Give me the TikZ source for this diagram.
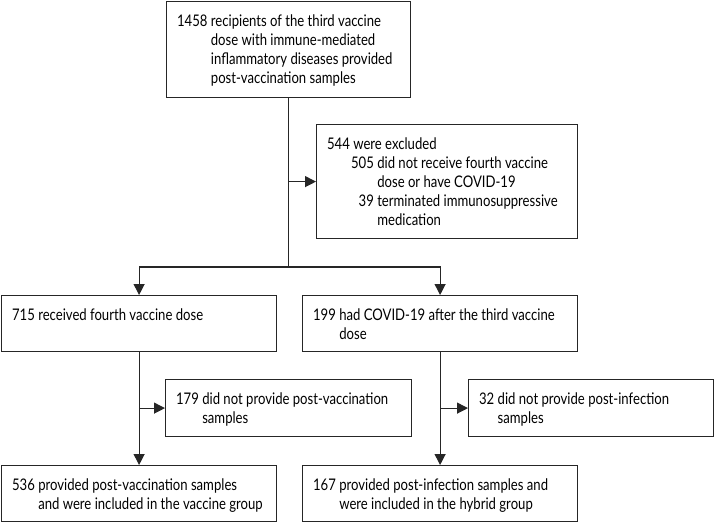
\documentclass[tikz,border=0pt]{standalone}
\usepackage{fontspec}
\setmainfont[FakeStretch=0.82]{Lato}
\usetikzlibrary{arrows.meta}

\begin{document}
\begin{tikzpicture}[
        x=1pt, y=-1pt,
        box/.style={rectangle, draw=black!85, line width=1.2pt, anchor=north west, align=flush left, inner xsep=10.5pt, inner ysep=0pt, text height=24.5pt, font=\fontsize{16}{19}\selectfont},
        wide_box/.style={box, text width=254pt, text depth=31.5pt},
        side_box/.style={box, text width=225pt, text depth=32.5pt},
        flow/.style={line width=1.2pt, draw=black!85, -{Triangle[length=11pt,width=11pt]}}
    ]
        \useasboundingbox (0,0) rectangle (715,522);

        % Top: all recipients and exclusions
        \node[box, text width=223pt, text depth=71.5pt] (recipients_box) at (166,1) {1458 recipients of the third vaccine\\
            \hphantom{1458 }dose with immune-mediated\\
            \hphantom{1458 }inflammatory diseases provided\\
            \hphantom{1458 }post-vaccination samples};
        \node[box, text width=240pt, text depth=89.5pt] (excluded_box) at (316,124) {544 were excluded\\
            \hspace*{24pt}505 did not receive fourth vaccine\\
            \hspace*{24pt}\hphantom{505 }dose or have COVID-19\\
            \hspace*{24pt}\hphantom{5}39 terminated immunosuppressive\\
            \hspace*{24pt}\hphantom{505 }medication};

        % Second row: the two groups
        \node[wide_box] (fourth_box) at (1,295) {715 received fourth vaccine dose};
        \node[wide_box] (covid_box) at (302,295) {199 had COVID-19 after the third vaccine\\
            \hphantom{199 }dose};

        % Third row: missing samples
        \node[side_box] (novax_box) at (165,379) {179 did not provide post-vaccination\\
            \hphantom{179 }samples};
        \node[side_box, text width=224pt] (noinf_box) at (468,379) {32 did not provide post-infection\\
            \hphantom{32 }samples};

        % Bottom row: included groups
        \node[wide_box] (vaccine_box) at (1,465) {536 provided post-vaccination samples\\
            \hphantom{536 }and were included in the vaccine group};
        \node[wide_box] (hybrid_box) at (302,465) {167 provided post-infection samples and\\
            \hphantom{167 }were included in the hybrid group};

        % Connectors
        \coordinate (split) at (recipients_box.south |- 0,267);
        \draw[line width=1.2pt, draw=black!85] (recipients_box.south) -- (split);
        \draw[flow] (recipients_box.south |- excluded_box.west) -- (excluded_box.west);
        \draw[flow] (split) -| (fourth_box.north);
        \draw[flow] (split) -| (covid_box.north);

        \draw[flow] (fourth_box.south) -- (vaccine_box.north);
        \draw[flow] (fourth_box.south |- novax_box.west) -- (novax_box.west);
        \draw[flow] (covid_box.south) -- (hybrid_box.north);
        \draw[flow] (covid_box.south |- noinf_box.west) -- (noinf_box.west);

    \end{tikzpicture}
\end{document}
